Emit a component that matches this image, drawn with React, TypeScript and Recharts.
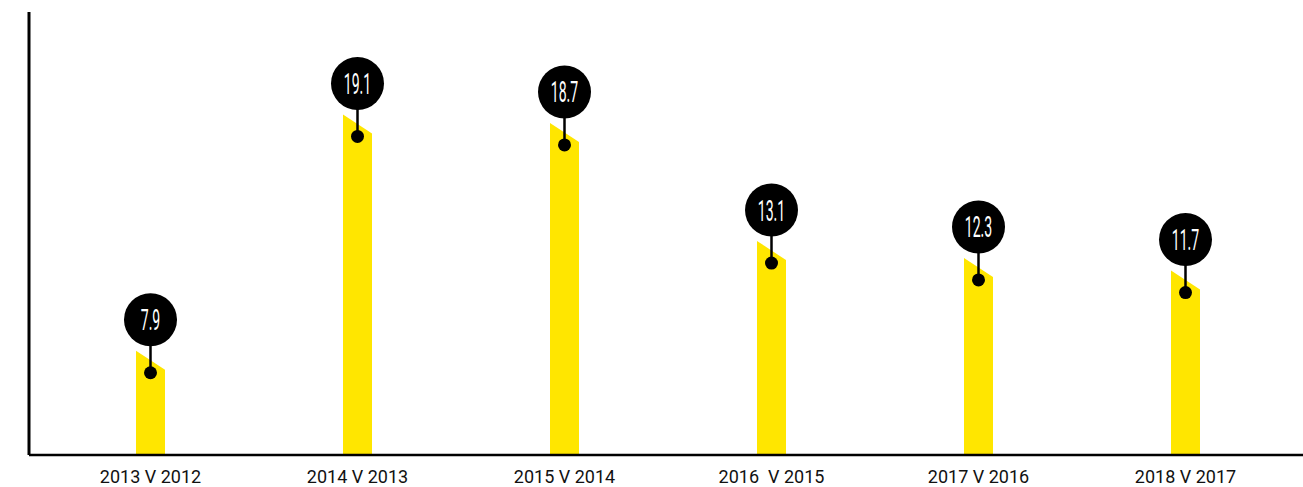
import React from "react";
import { BarChart, Bar, XAxis, YAxis } from "recharts";

const categories = ["2013 V 2012", "2014 V 2013", "2015 V 2014", "2016  V 2015", "2017 V 2016", "2018 V 2017"];
const growth = [7.9, 19.1, 18.7, 13.1, 12.3, 11.7];

const data = categories.map((name, i) => ({ name, value: growth[i] }));

const YELLOW = "#FFE600";

function PinBar(props: any) {
  const { x, y, width, height, value } = props;
  const cx = x + width / 2;
  const base = y + height;
  const cy = y - 53;
  return (
    <g>
      <polygon
        points={`${x},${y - 22} ${x + width},${y - 3} ${x + width},${base} ${x},${base}`}
        fill={YELLOW}
      />
      <line x1={cx} y1={y} x2={cx} y2={cy + 20} stroke="#000" strokeWidth={2.5} />
      <circle cx={cx} cy={y} r={6.5} fill="#000" />
      <circle cx={cx} cy={cy} r={26.5} fill="#000" />
      <text
        x={0}
        y={0}
        transform={`translate(${cx},${cy + 10.5}) scale(0.47,1)`}
        textAnchor="middle"
        fill="#fff"
        fontFamily="Roboto, sans-serif"
        fontSize={30}
      >
        {value}
      </text>
    </g>
  );
}

function Tick(props: any) {
  const { x, y, payload } = props;
  return (
    <text
      x={x}
      y={y + 20}
      textAnchor="middle"
      fill="#111"
      fontFamily="Roboto, sans-serif"
      fontSize={18}
      style={{ whiteSpace: "pre" }}
    >
      {payload.value}
    </text>
  );
}

export default function App() {
  return (
    <div style={{ position: "absolute", left: 0, top: 0, background: "#fff" }}>
      <BarChart
        width={1303}
        height={487}
        data={data}
        margin={{ top: 12, right: 0, left: 0, bottom: 0 }}
      >
        <XAxis
          dataKey="name"
          height={32}
          padding={{ left: 18, right: 14 }}
          tickLine={false}
          axisLine={{ stroke: "#000", strokeWidth: 2.5 }}
          tick={<Tick />}
          interval={0}
        />
        <YAxis
          width={29}
          domain={[4, 25]}
          tick={false}
          tickLine={false}
          axisLine={{ stroke: "#000", strokeWidth: 3 }}
        />
        <Bar dataKey="value" barSize={29} shape={<PinBar />} isAnimationActive={false} />
      </BarChart>
    </div>
  );
}
